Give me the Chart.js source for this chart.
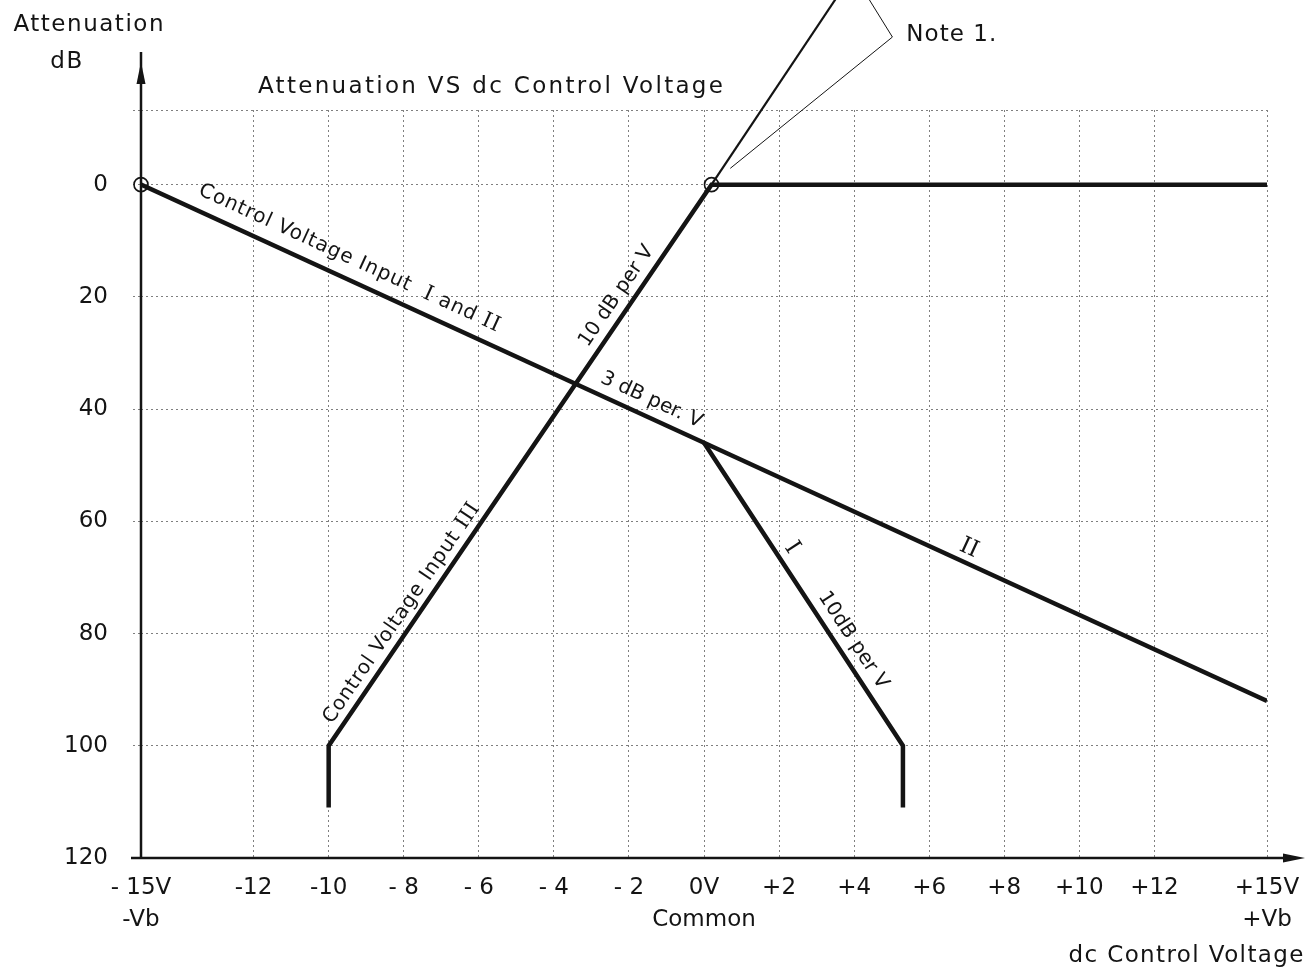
<!DOCTYPE html>
<html lang="en">
<head>
  <meta charset="UTF-8" />
  <title>Attenuation VS dc Control Voltage</title>
  <script src="https://cdn.jsdelivr.net/npm/chart.js"></script>
  <style>
    html,
    body {
      margin: 0;
      padding: 0;
      background: #fff;
    }
    #wrap {
      width: 1306px;
      height: 970px;
      position: relative;
    }
  </style>
</head>
<body>
  <div id="wrap"><canvas id="attChart"></canvas></div>

  <script>
    // axis ticks (dc control voltage in V, attenuation in dB)
    const xTicks = [-15, -12, -10, -8, -6, -4, -2, 0, 2, 4, 6, 8, 10, 12, 15];
    const xTickLabels = [
      ["- 15V", "-Vb"], "-12", "-10", "- 8", "- 6", "- 4", "- 2",
      ["0V", "Common"], "+2", "+4", "+6", "+8", "+10", "+12", ["+15V", "+Vb"]
    ];
    const yTicks = [0, 20, 40, 60, 80, 100, 120];
    const yTop = -13.3;

    // curves
    const lineIandIIVolts = [-15, 0, 15];
    const lineIandIIDb = [0, 46, 92];
    const lineIVolts = [0, 5.3, 5.3];
    const lineIDb = [46, 100, 111];
    const lineIIIVolts = [-10, -10, 0.2, 15];
    const lineIIIDb = [111, 100, 0, 0];
    const note1Volts = [0.2, 3.5];
    const note1Db = [0, -33];
    const leaderVolts = [4.4, 5.02, 0.7];
    const leaderDb = [-33, -26.3, -2.9];
    const markerVolts = [-15, 0.2];
    const markerDb = [0, 0];

    const ink = "#141414";
    const gridColor = "rgba(0,0,0,0.5)";
    const sans = "'DejaVu Sans', sans-serif";
    const serif = "'DejaVu Serif', serif";

    const pts = (xs, ys) => xs.map((x, i) => ({ x: x, y: ys[i] }));

    // text notes: position in (V, dB), optional segment to align with
    const notes = [
      { runs: [["Attenuation VS dc Control Voltage"]], at: [-5.69, -17.46], size: 23, width: 465 },
      { runs: [["Attenuation"]], at: [-16.4, -28.4], size: 23, width: 150 },
      { runs: [["dB"]], at: [-16.99, -21.8], size: 23, width: 32 },
      { runs: [["Note 1."]], at: [6.59, -26.6], size: 23, width: 90 },
      { runs: [["dc Control Voltage"]], at: [12.84, 137.5], size: 23, width: 235 },
      {
        runs: [["Control Voltage Input  "], ["I", 1], [" and "], ["II", 1]],
        at: [-9.45, 13.1], size: 20, width: 329, along: [lineIandIIVolts, lineIandIIDb, 0]
      },
      { runs: [["3 dB per. V"]], at: [-1.4, 38.4], size: 20, width: 105, along: [lineIandIIVolts, lineIandIIDb, 0] },
      { runs: [["10 dB per V"]], at: [-2.33, 19.87], size: 20, width: 110, along: [lineIIIVolts, lineIIIDb, 1] },
      {
        runs: [["Control Voltage Input "], ["III", 1]],
        at: [-8.06, 76.4], size: 20, width: 262, along: [lineIIIVolts, lineIIIDb, 1]
      },
      { runs: [["I", 1]], at: [2.34, 64.7], size: 22, along: [lineIVolts, lineIDb, 0] },
      { runs: [["II", 1]], at: [7.06, 64.8], size: 22, along: [lineIandIIVolts, lineIandIIDb, 1] },
      { runs: [["10dB per V"]], at: [3.97, 81.2], size: 20, width: 112, along: [lineIVolts, lineIDb, 0] }
    ];

    function drawRuns(ctx, runs, size, target) {
      const fonts = runs.map(r => (r[1] ? size + 1 : size) + "px " + (r[1] ? serif : sans));
      let w0 = 0;
      let n = 0;
      const widths = runs.map((r, i) => {
        ctx.font = fonts[i];
        ctx.letterSpacing = "0px";
        const w = ctx.measureText(r[0]).width;
        w0 += w;
        n += r[0].length;
        return w;
      });
      const ls = target ? Math.max(0, (target - w0) / Math.max(1, n - 1)) : 0;
      let x = -(w0 + ls * (n - 1)) / 2;
      runs.forEach((r, i) => {
        ctx.font = fonts[i];
        ctx.letterSpacing = ls + "px";
        ctx.fillText(r[0], x, 0);
        x += widths[i] + ls * r[0].length;
      });
      ctx.letterSpacing = "0px";
    }

    const drawingPlugin = {
      id: "drawing",
      beforeDatasetsDraw(chart) {
        const { ctx, chartArea } = chart;
        const { left, right, top, bottom } = chartArea;
        ctx.save();
        ctx.strokeStyle = ink;
        ctx.fillStyle = ink;
        ctx.lineWidth = 2.5;
        ctx.beginPath();
        ctx.moveTo(left, bottom);
        ctx.lineTo(left, top - 58);
        ctx.moveTo(left - 10, bottom);
        ctx.lineTo(right + 20, bottom);
        ctx.stroke();
        // arrow heads
        ctx.beginPath();
        ctx.moveTo(left, top - 48);
        ctx.lineTo(left - 4.5, top - 26);
        ctx.lineTo(left + 4.5, top - 26);
        ctx.closePath();
        ctx.fill();
        ctx.beginPath();
        ctx.moveTo(right + 38, bottom);
        ctx.lineTo(right + 16, bottom - 4.5);
        ctx.lineTo(right + 16, bottom + 4.5);
        ctx.closePath();
        ctx.fill();
        ctx.restore();
      },
      afterDraw(chart) {
        const { ctx } = chart;
        const xs = chart.scales.x;
        const ys = chart.scales.y;
        ctx.save();
        ctx.fillStyle = ink;
        ctx.textBaseline = "middle";
        ctx.textAlign = "left";
        notes.forEach(note => {
          let angle = 0;
          if (note.along) {
            const [vx, vy, i] = note.along;
            const dx = xs.getPixelForValue(vx[i + 1]) - xs.getPixelForValue(vx[i]);
            const dy = ys.getPixelForValue(vy[i + 1]) - ys.getPixelForValue(vy[i]);
            angle = Math.atan2(dy, dx);
          }
          ctx.save();
          ctx.translate(xs.getPixelForValue(note.at[0]), ys.getPixelForValue(note.at[1]));
          ctx.rotate(angle);
          drawRuns(ctx, note.runs, note.size, note.width);
          ctx.restore();
        });
        ctx.restore();
      }
    };

    const heavy = {
      showLine: true,
      borderColor: ink,
      borderWidth: 4.5,
      pointRadius: 0,
      borderJoinStyle: "miter",
      borderCapStyle: "butt"
    };

    new Chart(document.getElementById("attChart"), {
      type: "scatter",
      data: {
        datasets: [
          {
            data: pts(markerVolts, markerDb),
            showLine: false,
            pointRadius: 7,
            pointBorderWidth: 1.6,
            pointBorderColor: ink,
            pointBackgroundColor: "rgba(0,0,0,0)",
            clip: false,
            order: -1
          },
          Object.assign({ data: pts(lineIandIIVolts, lineIandIIDb) }, heavy),
          Object.assign({ data: pts(lineIVolts, lineIDb) }, heavy),
          Object.assign({ data: pts(lineIIIVolts, lineIIIDb) }, heavy),
          {
            data: pts(note1Volts, note1Db),
            showLine: true,
            borderColor: ink,
            borderWidth: 2.2,
            pointRadius: 0,
            clip: false
          },
          {
            data: pts(leaderVolts, leaderDb),
            showLine: true,
            borderColor: ink,
            borderWidth: 1,
            pointRadius: 0,
            clip: false
          }
        ]
      },
      options: {
        responsive: true,
        maintainAspectRatio: false,
        animation: false,
        events: [],
        layout: { padding: { left: 0, top: 110, right: 39, bottom: 0 } },
        plugins: {
          legend: { display: false },
          tooltip: { enabled: false }
        },
        scales: {
          x: {
            type: "linear",
            min: -15,
            max: 15,
            afterBuildTicks: s => {
              s.ticks = xTicks.map(v => ({ value: v }));
            },
            afterFit: s => {
              s.height = 112;
              s.paddingLeft = 0;
              s.paddingRight = 0;
            },
            border: { display: false, dash: [2, 3] },
            grid: { color: gridColor, lineWidth: 1, drawTicks: false },
            ticks: {
              autoSkip: false,
              maxRotation: 0,
              padding: 14,
              color: ink,
              font: { family: sans, size: 23, lineHeight: 1.4 },
              callback: (value, index) => xTickLabels[index]
            }
          },
          y: {
            type: "linear",
            reverse: true,
            min: yTop,
            max: 120,
            afterBuildTicks: s => {
              s.ticks = [yTop].concat(yTicks).map(v => ({ value: v }));
            },
            afterFit: s => {
              s.width = 141;
              s.paddingTop = 0;
              s.paddingBottom = 0;
            },
            border: { display: false, dash: [2, 3] },
            grid: {
              color: gridColor,
              lineWidth: 1,
              tickLength: 8,
              tickBorderDash: [2, 3]
            },
            ticks: {
              padding: 25,
              color: ink,
              font: { family: sans, size: 23 },
              callback: value => (yTicks.includes(value) ? String(value) : "")
            }
          }
        }
      },
      plugins: [drawingPlugin]
    });
  </script>
</body>
</html>
